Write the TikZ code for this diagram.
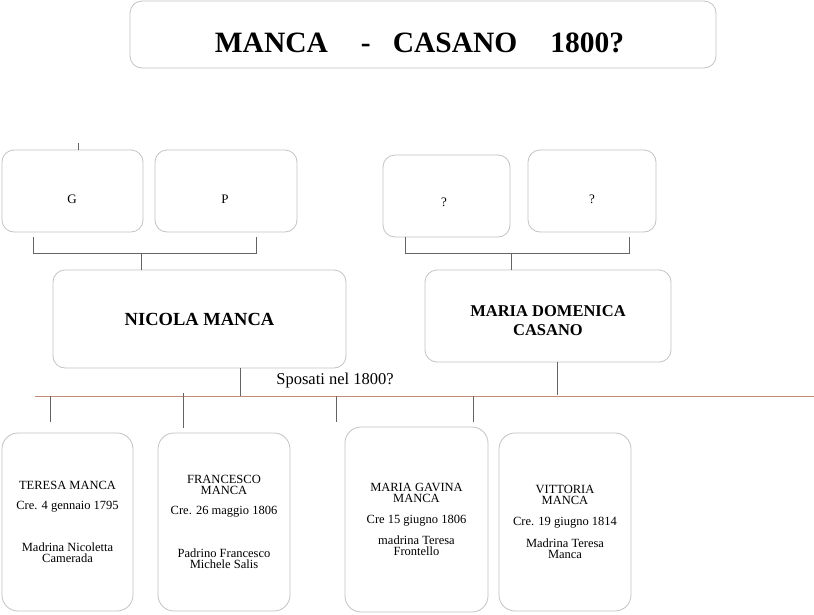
\documentclass[tikz,border=0pt]{standalone}
\usepackage{fontspec}
\setmainfont{Liberation Serif}
\definecolor{boxgray}{RGB}{195,195,195}
\definecolor{linegray}{RGB}{100,100,100}
\definecolor{redline}{RGB}{190,140,120}
\begin{document}
\begin{tikzpicture}[x=1pt,y=-1pt,
  pbox/.style={draw=boxgray,line width=0.8pt,rounded corners=12pt,fill=white,inner sep=0pt,align=center},
  cbox/.style={draw=boxgray,line width=0.8pt,rounded corners=16pt,fill=white,inner sep=0pt,align=center,font=\fontsize{12.5}{11}\selectfont},
  small/.style={font=\fontsize{13}{14}\selectfont},
  mline/.style={font=\fontsize{16.5}{15}\selectfont\bfseries,inner sep=0pt,anchor=base,text height=11pt,text depth=0pt},
  conn/.style={draw=linegray,line width=0.6pt}]
\useasboundingbox (0,0) rectangle (814,614);
\fill[white] (0,0) rectangle (814,614);
% title
\node[pbox,minimum width=586pt,minimum height=67pt] (title) at (423,34.5) {};
\node[anchor=base,inner sep=0pt,font=\fontsize{29.5}{30}\selectfont\bfseries] (titletext) at (419.5,52)
  {MANCA\hspace{33pt}-\hspace{22pt}CASANO\hspace{33pt}1800?};
% grandparents
\node[pbox,minimum width=141pt,minimum height=82pt] (g) at (72.5,191) {};
\node[small] (gt) at (72,199) {G};
\node[pbox,minimum width=142pt,minimum height=82pt] (p) at (226,191) {};
\node[small] (pt) at (225,199) {P};
\node[pbox,minimum width=127pt,minimum height=82pt] (q1) at (446.5,196) {};
\node[small] (q1t) at (444,202) {?};
\node[pbox,minimum width=128pt,minimum height=82pt] (q2) at (592,191) {};
\node[small] (q2t) at (592,199) {?};
\coordinate (gtop) at (78,143);
\draw[conn] (gtop) -- (gtop |- g.north);
% parents
\node[pbox,minimum width=293pt,minimum height=98pt,font=\fontsize{18.5}{18}\selectfont\bfseries] (nicola) at (199.5,319) {NICOLA MANCA};
\node[pbox,minimum width=246pt,minimum height=92pt] (maria) at (548,316) {};
\node[mline] (maria1) at (548,316.5) {MARIA DOMENICA};
\node[mline] (maria2) at (548,335.5) {CASANO};
% brackets
\coordinate (b1l) at (33,237); \coordinate (b1r) at (256,237);
\coordinate (b2l) at (405,237); \coordinate (b2r) at (629,237);
\draw[conn] (b1l) -- ++(0,16) -| (b1r);
\draw[conn] (b2l) -- ++(0,16) -| (b2r);
\coordinate (b1m) at (141,253); \coordinate (b2m) at (511,253);
\draw[conn] (b1m) -- (b1m |- nicola.north);
\draw[conn] (b2m) -- (b2m |- maria.north);
% marriage line
\coordinate (ml) at (35,396); \coordinate (mr) at (814,396);
\draw[redline,line width=0.8pt] (ml) -- (mr);
\coordinate (nd) at (240,396); \coordinate (md) at (557,395);
\draw[conn] (nd |- nicola.south) -- (nd);
\draw[conn] (md |- maria.south) -- (md);
\node[font=\fontsize{16.5}{16}\selectfont] (spos) at (335,381) {Sposati nel 1800?};
% children
\node[cbox,minimum width=131pt,minimum height=178pt] (c1) at (67.5,522)
  {TERESA MANCA\\[9pt]Cre. 4 gennaio 1795\\[30pt]Madrina Nicoletta\\Camerada};
\node[cbox,minimum width=132pt,minimum height=178pt] (c2) at (224,522)
  {FRANCESCO\\MANCA\\[9pt]Cre. 26 maggio 1806\\[30pt]Padrino Francesco\\Michele Salis};
\node[cbox,minimum width=143pt,minimum height=185pt] (c3) at (416.5,519.5)
  {MARIA GAVINA\\MANCA\\[10pt]Cre 15 giugno 1806\\[9pt]madrina Teresa\\Frontello};
\node[cbox,minimum width=132pt,minimum height=178pt] (c4) at (565,522)
  {VITTORIA\\MANCA\\[10pt]Cre. 19 giugno 1814\\[10pt]Madrina Teresa\\Manca};
\coordinate (k1) at (50,396); \coordinate (k2) at (183,393);
\coordinate (k3) at (336,396); \coordinate (k4) at (473,396);
\draw[conn] (k1) -- ++(0,26);
\draw[conn] (k2) -- ++(0,35);
\draw[conn] (k3) -- ++(0,26);
\draw[conn] (k4) -- ++(0,26);
\end{tikzpicture}
\end{document}
